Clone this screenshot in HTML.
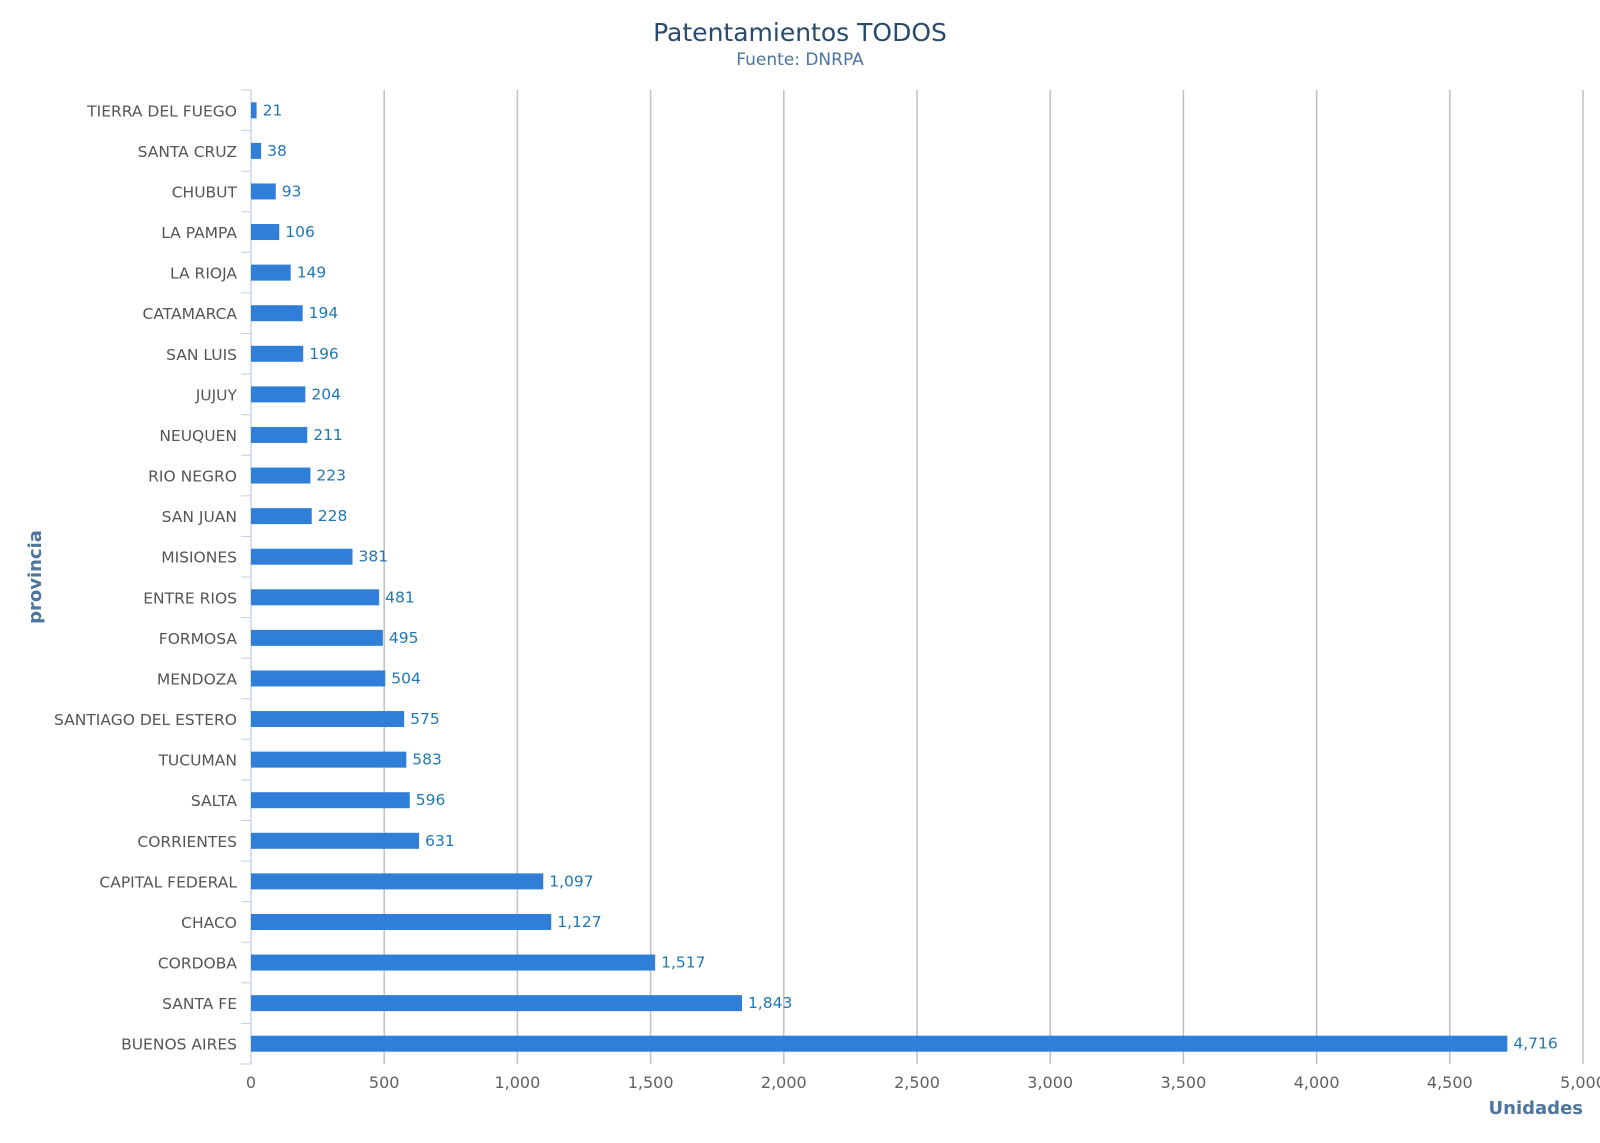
<!DOCTYPE html>
<html><head><meta charset="utf-8"><style>
html,body{margin:0;padding:0;background:#fff;}
svg{display:block;font-family:"DejaVu Sans","Liberation Sans",sans-serif;}
</style></head><body>
<svg id="chart" width="1600" height="1143">
<text x="800" y="41" text-anchor="middle" font-size="25" fill="#274b6d">Patentamientos TODOS</text>
<text x="800" y="65" text-anchor="middle" font-size="17" fill="#4d759e">Fuente: DNRPA</text>
<text transform="translate(41,577) rotate(-90)" text-anchor="middle" font-size="18" font-weight="bold" fill="#4d759e">provincia</text>
<text x="1583" y="1114" text-anchor="end" font-size="18" font-weight="bold" fill="#4d759e">Unidades</text>
<g id="grid"></g><g id="bars"></g><g id="labels"></g>
</svg>
<script>
const categories=["TIERRA DEL FUEGO","SANTA CRUZ","CHUBUT","LA PAMPA","LA RIOJA","CATAMARCA","SAN LUIS","JUJUY","NEUQUEN","RIO NEGRO","SAN JUAN","MISIONES","ENTRE RIOS","FORMOSA","MENDOZA","SANTIAGO DEL ESTERO","TUCUMAN","SALTA","CORRIENTES","CAPITAL FEDERAL","CHACO","CORDOBA","SANTA FE","BUENOS AIRES"];
const values=[21,38,93,106,149,194,196,204,211,223,228,381,481,495,504,575,583,596,631,1097,1127,1517,1843,4716];
const ticks=[0,500,1000,1500,2000,2500,3000,3500,4000,4500,5000];
const NS="http://www.w3.org/2000/svg";
const L=251,R=1583,T=90,B=1064,max=5000;
const x=v=>L+(v/max)*(R-L);
const band=(B-T)/categories.length;
const y=i=>T+band*i;
function mk(tag,a,p){const e=document.createElementNS(NS,tag);for(const k in a)e.setAttribute(k,a[k]);p.appendChild(e);return e;}
const g=document.getElementById('grid'),bg=document.getElementById('bars'),lg=document.getElementById('labels');
ticks.forEach(t=>{
 const ln=mk('line',{x1:x(t),x2:x(t),y1:T,y2:B,stroke:t===0?'#ccd6eb':'#c0c0c0','stroke-width':1.5},g);
 
 
 const tx=mk('text',{x:x(t),y:1088,'text-anchor':'middle','font-size':16,fill:'#606060'},lg);
 tx.textContent=t.toLocaleString('en-US');
 
 
});
for(let i=0;i<=categories.length;i++){
 const tk=mk('line',{x1:L-10,x2:L,y1:y(i),y2:y(i),stroke:'#c0d0e0','stroke-width':1},g);
 
 
}
categories.forEach((c,i)=>{
 const cy=y(i)+band/2;
 const r=mk('rect',{x:L,y:cy-8,width:Math.max(x(values[i])-L,1),height:16,fill:'#2f7ed8'},bg);
 
 
 const ct=mk('text',{x:237,y:cy+6,'text-anchor':'end','font-size':15.5,fill:'#555'},lg);
 ct.textContent=c;
 
 
 const vt=mk('text',{x:x(values[i])+6,y:cy+5,'font-size':15.5,fill:'#1f78b4'},lg);
 vt.textContent=values[i].toLocaleString('en-US');
 
 
});
</script>
</body></html>
